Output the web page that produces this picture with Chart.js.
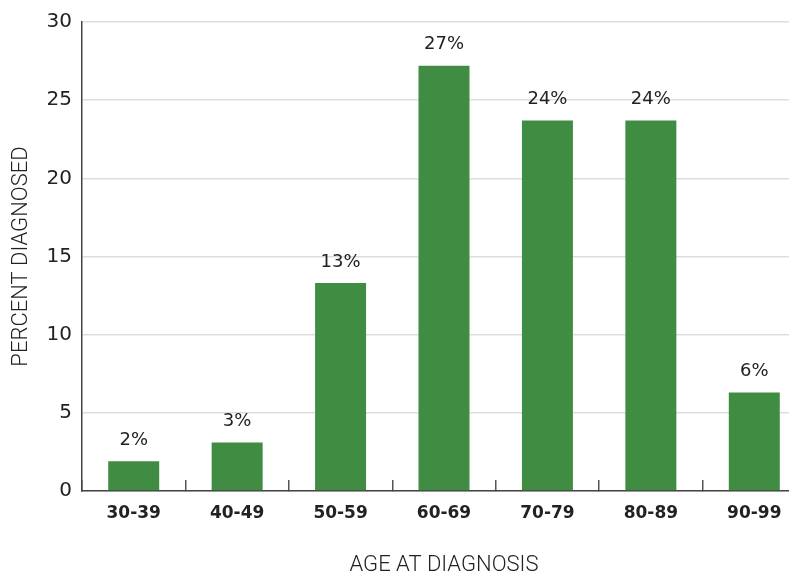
<!DOCTYPE html>
<html>
<head>
<meta charset="utf-8">
<script src="https://cdn.jsdelivr.net/npm/chart.js@4"></script>
<style>
  html, body { margin: 0; padding: 0; background: #fff; overflow: hidden; }
  #wrap { width: 806px; height: 579px; }
</style>
</head>
<body>
<div id="wrap"><canvas id="chart" width="806" height="579"></canvas></div>
<script>
// データ
const ageGroups = ['30-39', '40-49', '50-59', '60-69', '70-79', '80-89', '90-99'];
const percentDiagnosed = [1.9, 3.1, 13.3, 27.2, 23.7, 23.7, 6.3];
const valueLabels = ['2%', '3%', '13%', '27%', '24%', '24%', '6%'];
const yTicks = [0, 5, 10, 15, 20, 25, 30];

const GREEN = '#3f8c42';
const TEXT = '#222222';

// 棒の上にラベルを描くプラグイン
const barLabelPlugin = {
    id: 'barLabels',
    afterDatasetsDraw(chart) {
        const ctx = chart.ctx;
        const meta = chart.getDatasetMeta(0);
        ctx.save();
        ctx.font = '18px "DejaVu Sans"';
        ctx.fillStyle = TEXT;
        ctx.textAlign = 'center';
        ctx.textBaseline = 'middle';
        meta.data.forEach((bar, i) => {
            ctx.fillText(valueLabels[i], bar.x, bar.y - 21);
        });
        ctx.restore();
    }
};

function initChart() {
    const canvas = document.getElementById('chart');
    new Chart(canvas, {
        type: 'bar',
        data: {
            labels: ageGroups,
            datasets: [{
                data: percentDiagnosed,
                backgroundColor: GREEN,
                borderWidth: 0,
                barPercentage: 0.493,
                categoryPercentage: 1.0
            }]
        },
        options: {
            responsive: false,
            animation: false,
            layout: { padding: { top: 19, right: 0, bottom: 0, left: 0 } },
            plugins: {
                legend: { display: false },
                tooltip: { enabled: false }
            },
            scales: {
                x: {
                    offset: true,
                    grid: {
                        offset: true,
                        drawOnChartArea: false,
                        drawTicks: true,
                        tickLength: -11,
                        color: '#555555',
                        lineWidth: 1.5
                    },
                    border: { display: true, color: '#444444', width: 1.5 },
                    ticks: {
                        color: TEXT,
                        font: { family: 'DejaVu Sans', size: 17, weight: 'bold' },
                        padding: 23,
                        maxRotation: 0
                    },
                    title: {
                        display: true,
                        text: 'AGE AT DIAGNOSIS',
                        color: TEXT,
                        font: { family: 'Roboto', size: 22, weight: '300' },
                        padding: { top: 0, bottom: 0 }
                    },
                    afterFit(scale) { scale.height = 88; }
                },
                y: {
                    min: 0,
                    max: 30,
                    afterBuildTicks(scale) {
                        scale.ticks = yTicks.map(v => ({ value: v }));
                    },
                    grid: {
                        color: '#dddddd',
                        lineWidth: 1.5,
                        drawTicks: false
                    },
                    border: { display: true, color: '#444444', width: 1.5 },
                    ticks: {
                        color: TEXT,
                        font: { family: 'DejaVu Sans', size: 20 },
                        padding: 10
                    },
                    title: {
                        display: true,
                        text: 'PERCENT DIAGNOSED',
                        color: TEXT,
                        font: { family: 'Roboto', size: 22, weight: '300' },
                        padding: { top: 8, bottom: 0 }
                    },
                    afterFit(scale) { scale.width = 82; }
                }
            }
        },
        plugins: [barLabelPlugin]
    });
}

document.addEventListener('DOMContentLoaded', initChart);
</script>
</body>
</html>
